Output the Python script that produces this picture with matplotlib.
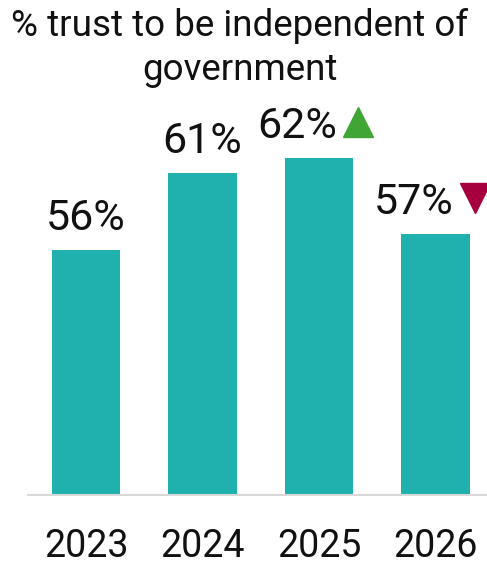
import matplotlib
matplotlib.use("Agg")
import matplotlib.pyplot as plt
from matplotlib.transforms import offset_copy

years = ["2023", "2024", "2025", "2026"]
trust = [56, 61, 62, 57]
change = [None, None, "up", "down"]

title_lines = ["% trust to be independent of", "government"]

BAR = "#20b0ae"
UP = "#3fa535"
DOWN = "#a6003f"
TEXT = "#111111"

plt.rcParams["font.family"] = ["Roboto", "DejaVu Sans"]

W, H = 487, 561
fig = plt.figure(figsize=(W / 100, H / 100), dpi=100)
ax = fig.add_axes([28 / W, (H - 494.5) / H, 1 - 28 / W, 459 / H])

x = list(range(len(years)))
ax.bar(x, trust, width=0.584, color=BAR, zorder=2)
ax.set_ylim(40, 70)
ax.set_xlim(-0.498, 3.442)

for side in ["top", "right", "left"]:
    ax.spines[side].set_visible(False)
ax.spines["bottom"].set_color("#d9d9d9")
ax.spines["bottom"].set_linewidth(1.5)
ax.set_yticks([])
ax.set_xticks(x)
ax.set_xticklabels(years, fontsize=27, color=TEXT)
ax.tick_params(axis="x", length=0, pad=24)

for xi, v, c in zip(x, trust, change):
    dx = 0 if c is None else -22
    ax.annotate(f"{v}%", xy=(xi, v), xytext=(dx * 0.72, 20 * 0.72),
                textcoords="offset points", ha="center", va="baseline",
                fontsize=31, color=TEXT)
    if c is not None:
        tr = offset_copy(ax.transData, fig=fig, x=39, y=36, units="dots")
        ax.plot([xi], [v], marker="^" if c == "up" else "v",
                markersize=21, color=UP if c == "up" else DOWN,
                linestyle="none", transform=tr, clip_on=False)

for line, base in zip(title_lines, [36, 80]):
    fig.text(240 / W, 1 - base / H, line, ha="center", va="baseline",
             fontsize=26.5, color=TEXT)

fig.savefig("out.png", dpi=100)
